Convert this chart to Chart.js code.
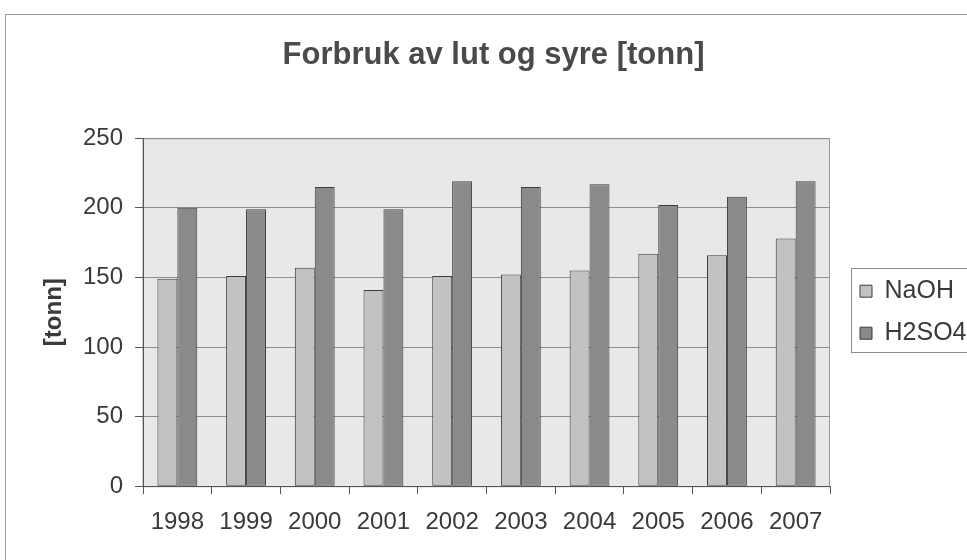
<!DOCTYPE html>
<html>
<head>
<meta charset="utf-8">
<script src="https://cdn.jsdelivr.net/npm/chart.js@4/dist/chart.umd.min.js"></script>
<style>
  html, body { margin: 0; padding: 0; background: #fff; overflow: hidden; }
  .frame { position: absolute; left: 5px; top: 14px; width: 1000px; height: 600px; border: 1px solid #9a9a9a; }
  .chart-box { position: absolute; left: 0; top: 0; width: 967px; height: 560px; }
</style>
</head>
<body>
<div class="frame"></div>
<div class="chart-box"><canvas class="js-chart"></canvas></div>
<script>
// *****  data
const years = ['1998', '1999', '2000', '2001', '2002', '2003', '2004', '2005', '2006', '2007'];
const naoh = [149, 151, 157, 141, 151, 152, 155, 167, 166, 178];
const h2so4 = [200, 199, 215, 199, 219, 215, 217, 202, 208, 219];
const yTicks = [0, 50, 100, 150, 200, 250];

const FONT = "'Liberation Sans', Arial, sans-serif";
const LEGEND_W = 137;   // space right of the plot
const LEGEND_SHIFT = 13; // legend items sit a bit in from the plot edge

// ***** plot background + frame, legend box
const plotBg = {
  id: 'plotBg',
  beforeLayout(chart) {
    // fixed legend width so the plot ends where the original does
    const lg = chart.legend;
    if (lg && !lg._fixed) {
      const fit = lg.fit;
      lg.fit = function () {
        fit.call(this);
        this.width = LEGEND_W;
      };
      lg._fixed = true;
    }
  },
  afterLayout(chart) {
    const lg = chart.legend;
    if (lg) {
      lg.left += LEGEND_SHIFT;
      lg.right += LEGEND_SHIFT;
    }
  },
  beforeDraw(chart) {
    const { ctx, chartArea: a } = chart;
    ctx.save();
    ctx.fillStyle = '#e8e8e8';
    ctx.fillRect(a.left, a.top, a.right - a.left, a.bottom - a.top);
    ctx.strokeStyle = '#9a9a9a';
    ctx.lineWidth = 1;
    ctx.strokeRect(a.left, a.top + 0.5, a.right - a.left - 0.5, a.bottom - a.top);
    ctx.restore();
  },
  afterDraw(chart) {
    const hb = chart.legend && chart.legend.legendHitBoxes;
    if (!hb || !hb.length) return;
    const { ctx } = chart;
    const first = hb[0];
    const last = hb[hb.length - 1];
    const x = Math.round(first.left - 9) + 0.5;
    const y = Math.round(first.top - 11) + 0.5;
    const h = Math.round(last.top + last.height - first.top + 17);
    ctx.save();
    ctx.strokeStyle = '#8a8a8a';
    ctx.lineWidth = 1;
    ctx.strokeRect(x, y, chart.width - x + 10, h);
    ctx.restore();
  },
};

const ctx = document.querySelector('.js-chart').getContext('2d');

const chart = new Chart(ctx, {
  type: 'bar',
  data: {
    labels: years,
    datasets: [
      {
        label: 'NaOH',
        data: naoh,
        backgroundColor: '#c2c2c2',
        borderColor: '#3c3c3c',
        borderWidth: 1,
        borderSkipped: false,
      },
      {
        label: 'H2SO4',
        data: h2so4,
        backgroundColor: '#8a8a8a',
        borderColor: '#3c3c3c',
        borderWidth: 1,
        borderSkipped: false,
      },
    ],
  },
  options: {
    responsive: true,
    maintainAspectRatio: false,
    animation: false,
    events: [],
    layout: {
      padding: { left: 20, right: 0, top: 10, bottom: 9 },
    },
    datasets: {
      bar: { categoryPercentage: 0.58, barPercentage: 1 },
    },
    plugins: {
      title: {
        display: true,
        text: 'Forbruk av lut og syre [tonn]',
        color: '#4a4a4a',
        font: { family: FONT, size: 31, weight: 'bold' },
        padding: { top: 27, bottom: 64 },
      },
      legend: {
        display: true,
        position: 'right',
        align: 'center',
        fullSize: false,
        labels: {
          boxWidth: 12,
          boxHeight: 12,
          padding: 17,
          color: '#3a3a3a',
          font: { family: FONT, size: 25 },
        },
      },
      tooltip: { enabled: false },
    },
    scales: {
      x: {
        grid: {
          drawOnChartArea: false,
          drawTicks: true,
          tickLength: 8,
          color: '#555',
        },
        border: { color: '#555' },
        ticks: {
          color: '#3a3a3a',
          padding: 14,
          font: { family: FONT, size: 24 },
        },
      },
      y: {
        min: 0,
        max: 250,
        afterFit(axis) {
          axis.width = 123;
        },
        afterBuildTicks(axis) {
          axis.ticks = yTicks.map(v => ({ value: v }));
        },
        grid: {
          color: '#8e8e8e',
          tickLength: 8,
          tickColor: '#555',
        },
        border: { color: '#555' },
        ticks: {
          color: '#3a3a3a',
          padding: 12,
          font: { family: FONT, size: 24 },
        },
        title: {
          display: true,
          text: '[tonn]',
          color: '#3a3a3a',
          padding: { top: 20, bottom: 0 },
          font: { family: FONT, size: 24, weight: 'bold' },
        },
      },
    },
  },
  plugins: [plotBg],
});
</script>
</body>
</html>
